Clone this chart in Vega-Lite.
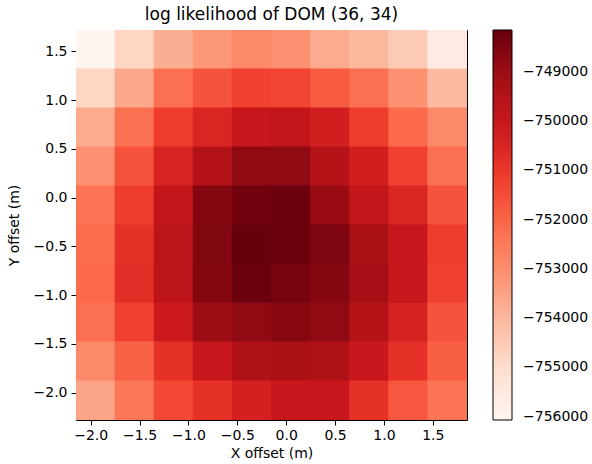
{
  "$schema": "https://vega.github.io/schema/vega-lite/v6.json",
  "autosize": {"type": "none"},
  "padding": {"left": 76, "top": 30, "right": 125, "bottom": 44},
  "width": 391,
  "height": 390,
  "background": "white",
  "title": {"text": "log likelihood of DOM (36, 34)", "fontSize": 17, "fontWeight": "normal", "color": "black", "anchor": "middle", "offset": 6},
  "data": {"values": [
    {"x": -1.95, "y": 1.52, "v": -756067}, {"x": -1.55, "y": 1.52, "v": -754801}, {"x": -1.15, "y": 1.52, "v": -753772}, {"x": -0.75, "y": 1.52, "v": -753218}, {"x": -0.35, "y": 1.52, "v": -752902}, {"x": 0.05, "y": 1.52, "v": -753060}, {"x": 0.45, "y": 1.52, "v": -753693}, {"x": 0.85, "y": 1.52, "v": -754010}, {"x": 1.25, "y": 1.52, "v": -754484}, {"x": 1.65, "y": 1.52, "v": -755592},
    {"x": -1.95, "y": 1.12, "v": -754801}, {"x": -1.55, "y": 1.12, "v": -753614}, {"x": -1.15, "y": 1.12, "v": -752269}, {"x": -0.75, "y": 1.12, "v": -751636}, {"x": -0.35, "y": 1.12, "v": -751240}, {"x": 0.05, "y": 1.12, "v": -751319}, {"x": 0.45, "y": 1.12, "v": -751794}, {"x": 0.85, "y": 1.12, "v": -752269}, {"x": 1.25, "y": 1.12, "v": -753100}, {"x": 1.65, "y": 1.12, "v": -754089},
    {"x": -1.95, "y": 0.72, "v": -753693}, {"x": -1.55, "y": 0.72, "v": -752269}, {"x": -1.15, "y": 0.72, "v": -751161}, {"x": -0.75, "y": 0.72, "v": -750528}, {"x": -0.35, "y": 0.72, "v": -750053}, {"x": 0.05, "y": 0.72, "v": -749895}, {"x": 0.45, "y": 0.72, "v": -750291}, {"x": 0.85, "y": 0.72, "v": -751161}, {"x": 1.25, "y": 0.72, "v": -752110}, {"x": 1.65, "y": 0.72, "v": -752902},
    {"x": -1.95, "y": 0.32, "v": -753060}, {"x": -1.55, "y": 0.32, "v": -751636}, {"x": -1.15, "y": 0.32, "v": -750449}, {"x": -0.75, "y": 0.32, "v": -749499}, {"x": -0.35, "y": 0.32, "v": -748787}, {"x": 0.05, "y": 0.32, "v": -748787}, {"x": 0.45, "y": 0.32, "v": -749578}, {"x": 0.85, "y": 0.32, "v": -750291}, {"x": 1.25, "y": 0.32, "v": -751240}, {"x": 1.65, "y": 0.32, "v": -752269},
    {"x": -1.95, "y": -0.08, "v": -752348}, {"x": -1.55, "y": -0.08, "v": -751161}, {"x": -1.15, "y": -0.08, "v": -749895}, {"x": -0.75, "y": -0.08, "v": -748629}, {"x": -0.35, "y": -0.08, "v": -748312}, {"x": 0.05, "y": -0.08, "v": -748233}, {"x": 0.45, "y": -0.08, "v": -748945}, {"x": 0.85, "y": -0.08, "v": -749895}, {"x": 1.25, "y": -0.08, "v": -750528}, {"x": 1.65, "y": -0.08, "v": -751636},
    {"x": -1.95, "y": -0.48, "v": -752190}, {"x": -1.55, "y": -0.48, "v": -750844}, {"x": -1.15, "y": -0.48, "v": -749737}, {"x": -0.75, "y": -0.48, "v": -748550}, {"x": -0.35, "y": -0.48, "v": -748154}, {"x": 0.05, "y": -0.48, "v": -748194}, {"x": 0.45, "y": -0.48, "v": -748510}, {"x": 0.85, "y": -0.48, "v": -749262}, {"x": 1.25, "y": -0.48, "v": -750053}, {"x": 1.65, "y": -0.48, "v": -751161},
    {"x": -1.95, "y": -0.88, "v": -752110}, {"x": -1.55, "y": -0.88, "v": -750765}, {"x": -1.15, "y": -0.88, "v": -749737}, {"x": -0.75, "y": -0.88, "v": -748629}, {"x": -0.35, "y": -0.88, "v": -748194}, {"x": 0.05, "y": -0.88, "v": -748431}, {"x": 0.45, "y": -0.88, "v": -748629}, {"x": 0.85, "y": -0.88, "v": -749143}, {"x": 1.25, "y": -0.88, "v": -750093}, {"x": 1.65, "y": -0.88, "v": -751240},
    {"x": -1.95, "y": -1.28, "v": -752269}, {"x": -1.55, "y": -1.28, "v": -751240}, {"x": -1.15, "y": -1.28, "v": -750172}, {"x": -0.75, "y": -1.28, "v": -749024}, {"x": -0.35, "y": -1.28, "v": -748787}, {"x": 0.05, "y": -1.28, "v": -748668}, {"x": 0.45, "y": -1.28, "v": -748787}, {"x": 0.85, "y": -1.28, "v": -749578}, {"x": 1.25, "y": -1.28, "v": -750409}, {"x": 1.65, "y": -1.28, "v": -751636},
    {"x": -1.95, "y": -1.68, "v": -752902}, {"x": -1.55, "y": -1.68, "v": -751952}, {"x": -1.15, "y": -1.68, "v": -750844}, {"x": -0.75, "y": -1.68, "v": -749974}, {"x": -0.35, "y": -1.68, "v": -749420}, {"x": 0.05, "y": -1.68, "v": -749262}, {"x": 0.45, "y": -1.68, "v": -749420}, {"x": 0.85, "y": -1.68, "v": -750093}, {"x": 1.25, "y": -1.68, "v": -750844}, {"x": 1.65, "y": -1.68, "v": -751873},
    {"x": -1.95, "y": -2.08, "v": -753535}, {"x": -1.55, "y": -2.08, "v": -752427}, {"x": -1.15, "y": -2.08, "v": -751398}, {"x": -0.75, "y": -2.08, "v": -750844}, {"x": -0.35, "y": -2.08, "v": -750370}, {"x": 0.05, "y": -2.08, "v": -750053}, {"x": 0.45, "y": -2.08, "v": -750053}, {"x": 0.85, "y": -2.08, "v": -750844}, {"x": 1.25, "y": -2.08, "v": -751715}, {"x": 1.65, "y": -2.08, "v": -752348}
  ]},
  "mark": {"type": "rect", "width": {"expr": "width/10+1"}, "height": {"expr": "height/10+1"}, "clip": true},
  "encoding": {
    "x": {"field": "x", "type": "quantitative", "title": "X offset (m)",
      "scale": {"domain": [-2.15, 1.85], "nice": false, "zero": false},
      "axis": {"values": [-2, -1.5, -1, -0.5, 0, 0.5, 1, 1.5], "format": ".1f", "grid": false, "tickSize": 5, "labelPadding": 3, "titlePadding": 4}},
    "y": {"field": "y", "type": "quantitative", "title": "Y offset (m)",
      "scale": {"domain": [-2.28, 1.72], "nice": false, "zero": false},
      "axis": {"values": [-2, -1.5, -1, -0.5, 0, 0.5, 1, 1.5], "format": ".1f", "grid": false, "tickSize": 5, "labelPadding": 4, "titlePadding": 12}},
    "color": {"field": "v", "type": "quantitative",
      "scale": {"domain": [-756067, -748154], "range": ["#fff5f0", "#fee0d2", "#fcbba1", "#fc9272", "#fb6a4a", "#ef3b2c", "#cb181d", "#a50f15", "#67000d"], "interpolate": "rgb", "nice": false, "zero": false},
      "legend": {"title": null, "orient": "none", "legendX": 417, "legendY": 0, "padding": 0, "direction": "vertical",
        "gradientLength": 390, "gradientThickness": 19, "gradientStrokeColor": "black", "gradientStrokeWidth": 1,
        "values": [-756000, -755000, -754000, -753000, -752000, -751000, -750000, -749000], "format": "d",
        "labelOffset": 11, "labelFontSize": 14, "labelColor": "black", "labelOverlap": false, "labelLimit": 200}}
  },
  "config": {
    "font": "DejaVu Sans",
    "view": {"stroke": "black", "strokeWidth": 1},
    "axis": {"domain": false, "tickColor": "black", "labelColor": "black", "titleColor": "black", "labelFontSize": 14, "titleFontSize": 14, "titleFontWeight": "normal", "tickWidth": 1}
  }
}
